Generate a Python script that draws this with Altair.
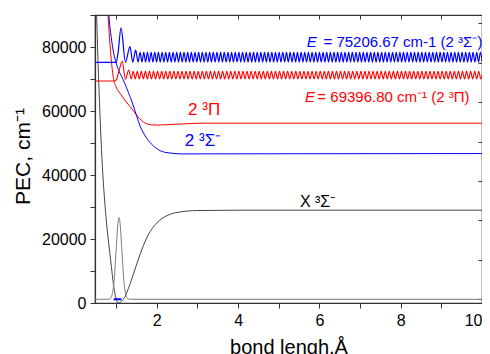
import altair as alt
import pandas as pd

FONT = "Liberation Sans"

# ---------------- data ----------------
# X 3Σ- potential (dark grey)
x_pot_r = [0.48, 0.52, 0.58, 0.66, 0.75, 0.86, 0.95, 1.05, 1.12, 1.20, 1.30, 1.45, 1.60, 1.75, 2.00, 2.25, 2.50, 3.00, 4.00, 10.0]
x_pot_E = [110000, 90000, 66000, 43000, 27000, 14000, 4500, 0, 400, 1600, 4500, 10000, 15600, 20300, 25000, 27300, 28300, 28900, 29000, 29000]

# v=0 wavefunction of the X state (grey)
x_wf_r = [0.48, 0.80, 0.85, 0.90, 0.95, 1.00, 1.04, 1.07, 1.10, 1.14, 1.19, 1.24, 1.29, 1.35, 10.0]
x_wf_E = [1160, 1160, 1340, 2560, 7000, 16600, 24400, 26700, 24400, 16600, 7000, 2560, 1340, 1160, 1160]

# v=0 level between the turning points (blue segment)
v0_r = [0.94, 1.13]
v0_E = [1160, 1160]

# 2 3Π potential (red)
red_pot_r = [0.70, 0.80, 0.86, 0.93, 1.00, 1.10, 1.25, 1.43, 1.55, 1.68, 1.85, 2.00, 2.50, 3.20, 10.0]
red_pot_E = [115000, 90000, 79000, 70500, 67500, 65500, 62800, 60000, 58000, 56500, 55700, 55600, 55900, 56200, 56200]

# 2 3Σ- potential (blue)
blue_pot_r = [0.74, 0.82, 0.88, 0.94, 1.00, 1.20, 1.40, 1.60, 1.75, 1.90, 2.10, 2.30, 2.60, 10.0]
blue_pot_E = [110000, 90000, 83000, 78000, 75000, 69000, 62500, 55000, 51500, 49300, 47500, 46900, 46600, 46700]

# continuum wavefunction at E = 69396.80 (red): start, then regular extrema
red_wave_start_r = [0.48, 0.94, 1.00, 1.07, 1.15, 1.23, 1.31, 1.37]
red_wave_start_E = [69397, 69397, 69700, 72500, 75500, 69900, 72800, 70000]
red_peak_E = 72400
red_trough_E = 70000
red_peak_r = [1.42, 1.52, 1.62, 1.72, 1.82, 1.92, 2.02, 2.12, 2.22, 2.32, 2.42, 2.52, 2.62, 2.72, 2.82, 2.92,
              3.02, 3.12, 3.22, 3.32, 3.42, 3.52, 3.62, 3.72, 3.82, 3.92, 4.02, 4.12, 4.22, 4.32, 4.42, 4.52,
              4.62, 4.72, 4.82, 4.92, 5.02, 5.12, 5.22, 5.32, 5.42, 5.52, 5.62, 5.72, 5.82, 5.92, 6.02, 6.12,
              6.22, 6.32, 6.42, 6.52, 6.62, 6.72, 6.82, 6.92, 7.02, 7.12, 7.22, 7.32, 7.42, 7.52, 7.62, 7.72,
              7.82, 7.92, 8.02, 8.12, 8.22, 8.32, 8.42, 8.52, 8.62, 8.72, 8.82, 8.92, 9.02, 9.12, 9.22, 9.32,
              9.42, 9.52, 9.62, 9.72, 9.82, 9.92, 10.02]
red_trough_r = [1.47, 1.57, 1.67, 1.77, 1.87, 1.97, 2.07, 2.17, 2.27, 2.37, 2.47, 2.57, 2.67, 2.77, 2.87, 2.97,
                3.07, 3.17, 3.27, 3.37, 3.47, 3.57, 3.67, 3.77, 3.87, 3.97, 4.07, 4.17, 4.27, 4.37, 4.47, 4.57,
                4.67, 4.77, 4.87, 4.97, 5.07, 5.17, 5.27, 5.37, 5.47, 5.57, 5.67, 5.77, 5.87, 5.97, 6.07, 6.17,
                6.27, 6.37, 6.47, 6.57, 6.67, 6.77, 6.87, 6.97, 7.07, 7.17, 7.27, 7.37, 7.47, 7.57, 7.67, 7.77,
                7.87, 7.97, 8.07, 8.17, 8.27, 8.37, 8.47, 8.57, 8.67, 8.77, 8.87, 8.97, 9.07, 9.17, 9.27, 9.37,
                9.47, 9.57, 9.67, 9.77, 9.87, 9.97]

# continuum wavefunction at E = 75206.67 (blue)
blue_wave_start_r = [0.48, 1.00, 1.05, 1.12, 1.23, 1.34, 1.41, 1.48, 1.54, 1.59]
blue_wave_start_E = [75207, 75207, 78500, 86000, 75300, 80100, 75300, 79000, 75300, 78300]
blue_peak_E = 78300
blue_trough_E = 75300
blue_peak_r = [1.68, 1.77, 1.86, 1.95, 2.04, 2.13, 2.22, 2.31, 2.40, 2.49, 2.58, 2.67, 2.76, 2.85, 2.94, 3.03,
               3.12, 3.21, 3.30, 3.39, 3.48, 3.57, 3.66, 3.75, 3.84, 3.93, 4.02, 4.11, 4.20, 4.29, 4.38, 4.47,
               4.56, 4.65, 4.74, 4.83, 4.92, 5.01, 5.10, 5.19, 5.28, 5.37, 5.46, 5.55, 5.64, 5.73, 5.82, 5.91,
               6.00, 6.09, 6.18, 6.27, 6.36, 6.45, 6.54, 6.63, 6.72, 6.81, 6.90, 6.99, 7.08, 7.17, 7.26, 7.35,
               7.44, 7.53, 7.62, 7.71, 7.80, 7.89, 7.98, 8.07, 8.16, 8.25, 8.34, 8.43, 8.52, 8.61, 8.70, 8.79,
               8.88, 8.97, 9.06, 9.15, 9.24, 9.33, 9.42, 9.51, 9.60, 9.69, 9.78, 9.87, 9.96]
blue_trough_r = [1.635, 1.725, 1.815, 1.905, 1.995, 2.085, 2.175, 2.265, 2.355, 2.445, 2.535, 2.625, 2.715,
                 2.805, 2.895, 2.985, 3.075, 3.165, 3.255, 3.345, 3.435, 3.525, 3.615, 3.705, 3.795, 3.885,
                 3.975, 4.065, 4.155, 4.245, 4.335, 4.425, 4.515, 4.605, 4.695, 4.785, 4.875, 4.965, 5.055,
                 5.145, 5.235, 5.325, 5.415, 5.505, 5.595, 5.685, 5.775, 5.865, 5.955, 6.045, 6.135, 6.225,
                 6.315, 6.405, 6.495, 6.585, 6.675, 6.765, 6.855, 6.945, 7.035, 7.125, 7.215, 7.305, 7.395,
                 7.485, 7.575, 7.665, 7.755, 7.845, 7.935, 8.025, 8.115, 8.205, 8.295, 8.385, 8.475, 8.565,
                 8.655, 8.745, 8.835, 8.925, 9.015, 9.105, 9.195, 9.285, 9.375, 9.465, 9.555, 9.645, 9.735,
                 9.825, 9.915, 10.005]

# axis ticks
x_ticks = [1, 2, 3, 4, 5, 6, 7, 8, 9, 10]
y_ticks = [0, 10000, 20000, 30000, 40000, 50000, 60000, 70000, 80000, 90000]
right_ticks = [1160, 13480, 25800, 38120, 50440, 62760, 75080, 87400]

# ---------------- chart ----------------
xs = alt.Scale(domain=[0.48, 10], nice=False, zero=False)
ys = alt.Scale(domain=[0, 90000], nice=False, zero=False)


def curve(rv, ev, color, width, xaxis=None, yaxis=None):
    df = pd.DataFrame({"r": rv, "E": ev})
    return alt.Chart(df).mark_line(
        color=color, strokeWidth=width, clip=True, interpolate="monotone"
    ).encode(
        x=alt.X("r:Q", scale=xs, axis=xaxis),
        y=alt.Y("E:Q", scale=ys, axis=yaxis),
    )


bottom_axis = alt.Axis(
    values=x_ticks, labelExpr="datum.value % 2 == 0 ? datum.label : ''",
    tickSize=5, tickColor="#333", domainColor="#333", domainWidth=1.2,
    labelFontSize=16, labelFont=FONT, labelColor="black", labelPadding=4, labelFlush=True,
    title="bond lengh,Å", titleFont=FONT, titleFontSize=20, titleFontWeight="normal",
    titleColor="black", titleY=50, titleBaseline="alphabetic", grid=False,
)
left_axis = alt.Axis(
    values=y_ticks, format="d", labelExpr="datum.value % 20000 == 0 ? datum.label : ''",
    tickSize=5, tickColor="#333", domainColor="#333", domainWidth=1.2,
    labelFontSize=16, labelFont=FONT, labelColor="black", labelPadding=4,
    title="PEC, cm⁻¹", titleFont=FONT, titleFontSize=21, titleFontWeight="normal",
    titleColor="black", titleX=-72, titleY=141, titleAngle=-90,
    titleAlign="center", titleBaseline="middle", grid=False,
)
top_axis = alt.Axis(orient="top", values=x_ticks, labels=False, tickSize=4, offset=-4,
                    domain=False, tickColor="#333", title=None, grid=False)
right_axis = alt.Axis(orient="right", values=right_ticks, labels=False, tickSize=4, offset=-4,
                      domain=False, tickColor="#333", title=None, grid=False)

x_pot = curve(x_pot_r, x_pot_E, "#444444", 1.0, bottom_axis, left_axis)
x_wf = curve(x_wf_r, x_wf_E, "#7a7a7a", 1.0, top_axis, right_axis)
v0 = curve(v0_r, v0_E, "#0000ff", 2.0)
red_pot = curve(red_pot_r, red_pot_E, "#ff0000", 1.0)
blue_pot = curve(blue_pot_r, blue_pot_E, "#0000ff", 1.0)

red_wave_r = red_wave_start_r + red_peak_r + red_trough_r
red_wave_E = red_wave_start_E + [red_peak_E] * len(red_peak_r) + [red_trough_E] * len(red_trough_r)
blue_wave_r = blue_wave_start_r + blue_peak_r + blue_trough_r
blue_wave_E = blue_wave_start_E + [blue_peak_E] * len(blue_peak_r) + [blue_trough_E] * len(blue_trough_r)
red_wave = curve(red_wave_r, red_wave_E, "#ff0000", 1.1)
blue_wave = curve(blue_wave_r, blue_wave_E, "#0000ff", 1.2)


def label(r, e, text, color, size, style="normal"):
    df = pd.DataFrame({"r": [r], "E": [e], "t": [text]})
    return alt.Chart(df).mark_text(
        align="left", baseline="middle", font=FONT, fontSize=size, color=color, fontStyle=style
    ).encode(
        x=alt.X("r:Q", scale=xs, axis=None),
        y=alt.Y("E:Q", scale=ys, axis=None),
        text="t:N",
    )


texts = [
    label(5.69, 81650, "E", "#0000ff", 15, "italic"),
    label(6.10, 81650, "= 75206.67 cm-1 (2 ³Σ⁻)", "#0000ff", 15),
    label(5.646, 64470, "E", "#ff0000", 15, "italic"),
    label(5.95, 64470, "= 69396.80 cm⁻¹ (2 ³Π)", "#ff0000", 15),
    label(2.77, 60300, "2 ³Π", "#ff0000", 17),
    label(2.69, 50700, "2 ³Σ⁻", "#0000ff", 17),
    label(5.52, 31560, "X ³Σ⁻", "#000000", 16),
]

chart = alt.layer(
    x_pot, x_wf, v0, red_pot, blue_pot, red_wave, blue_wave, *texts
).resolve_axis(
    x="independent", y="independent"
).properties(
    width=387, height=288,
    autosize=alt.AutoSizeParams(type="none"),
    padding={"left": 87, "top": 7, "right": 0, "bottom": 51},
).configure_view(
    stroke="#333", strokeWidth=1.2
)

chart.save("out.html", embed_options={"renderer": "svg", "actions": False})
